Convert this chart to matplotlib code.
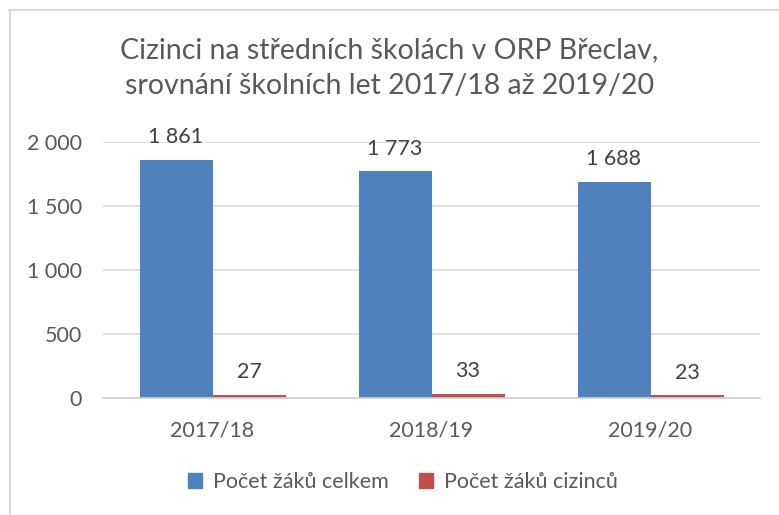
import matplotlib
matplotlib.use("Agg")
import matplotlib.pyplot as plt
import numpy as np
from matplotlib.patches import Rectangle
from matplotlib.lines import Line2D

categories = ["2017/18", "2018/19", "2019/20"]
total = [1861, 1773, 1688]
foreign = [27, 33, 23]
series_names = ["Počet žáků celkem", "Počet žáků cizinců"]
yticks = [0, 500, 1000, 1500, 2000]
ytick_labels = ["0", "500", "1 000", "1 500", "2 000"]

plt.rcParams['font.family'] = ['Lato', 'DejaVu Sans']
txt = '#595959'
blue = '#4F81BD'
red = '#C0504D'
fs = 15.5

fig = plt.figure(figsize=(7.79, 5.15), dpi=100)
ax = fig.add_axes([103/779, 1-398/515, (760-103)/779, (398-142)/515])

x = np.arange(len(categories))
w = 1/3
ax.bar(x - w/2, total, w, color=blue)
ax.bar(x + w/2, foreign, w, color=red)

def fmt(v):
    return f"{v:,}".replace(",", " ")

for i in range(len(categories)):
    ax.annotate(fmt(total[i]), (x[i]-w/2, total[i]), xytext=(0, 9), textcoords='offset points',
                ha='center', va='bottom', fontsize=fs, color='#404040')
    ax.annotate(fmt(foreign[i]), (x[i]+w/2, foreign[i]), xytext=(0, 9), textcoords='offset points',
                ha='center', va='bottom', fontsize=fs, color='#404040')

ax.set_xlim(-0.5, 2.5)
ax.set_ylim(0, 2000)
ax.set_yticks(yticks)
ax.set_yticklabels(ytick_labels, fontsize=fs, color=txt)
ax.set_xticks(x)
ax.set_xticklabels(categories, fontsize=fs, color=txt)
ax.tick_params(axis='y', length=0, pad=15)
ax.tick_params(axis='x', length=0, pad=16)
ax.grid(axis='y', color='#D9D9D9', linewidth=1.2)
ax.set_axisbelow(True)
for s in ['top', 'right', 'left']:
    ax.spines[s].set_visible(False)
ax.spines['bottom'].set_color('#D0D0D0')
ax.spines['bottom'].set_linewidth(1.2)

fig.text(0.5, 1-68/515, "Cizinci na středních školách v ORP Břeclav,\nsrovnání školních let 2017/18 až 2019/20",
         ha='center', va='center', fontsize=20.5, color=txt, linespacing=1.5)

handles = [Rectangle((0, 0), 1, 1, color=blue), Rectangle((0, 0), 1, 1, color=red)]
fig.legend(handles, series_names, loc='center', bbox_to_anchor=(0.517, 1-482/515), ncol=2,
           frameon=False, fontsize=fs, labelcolor=txt, handlelength=0.65, handleheight=0.65,
           handletextpad=0.5, columnspacing=1.4)

# outer frame
fig.add_artist(Line2D([9/779, 1], [1-10/515, 1-10/515], color='#D9D9D9', lw=1.5, transform=fig.transFigure))
fig.add_artist(Line2D([9.5/779, 9.5/779], [0, 1-10/515], color='#D9D9D9', lw=1.5, transform=fig.transFigure))

fig.savefig("out.png", dpi=100)
